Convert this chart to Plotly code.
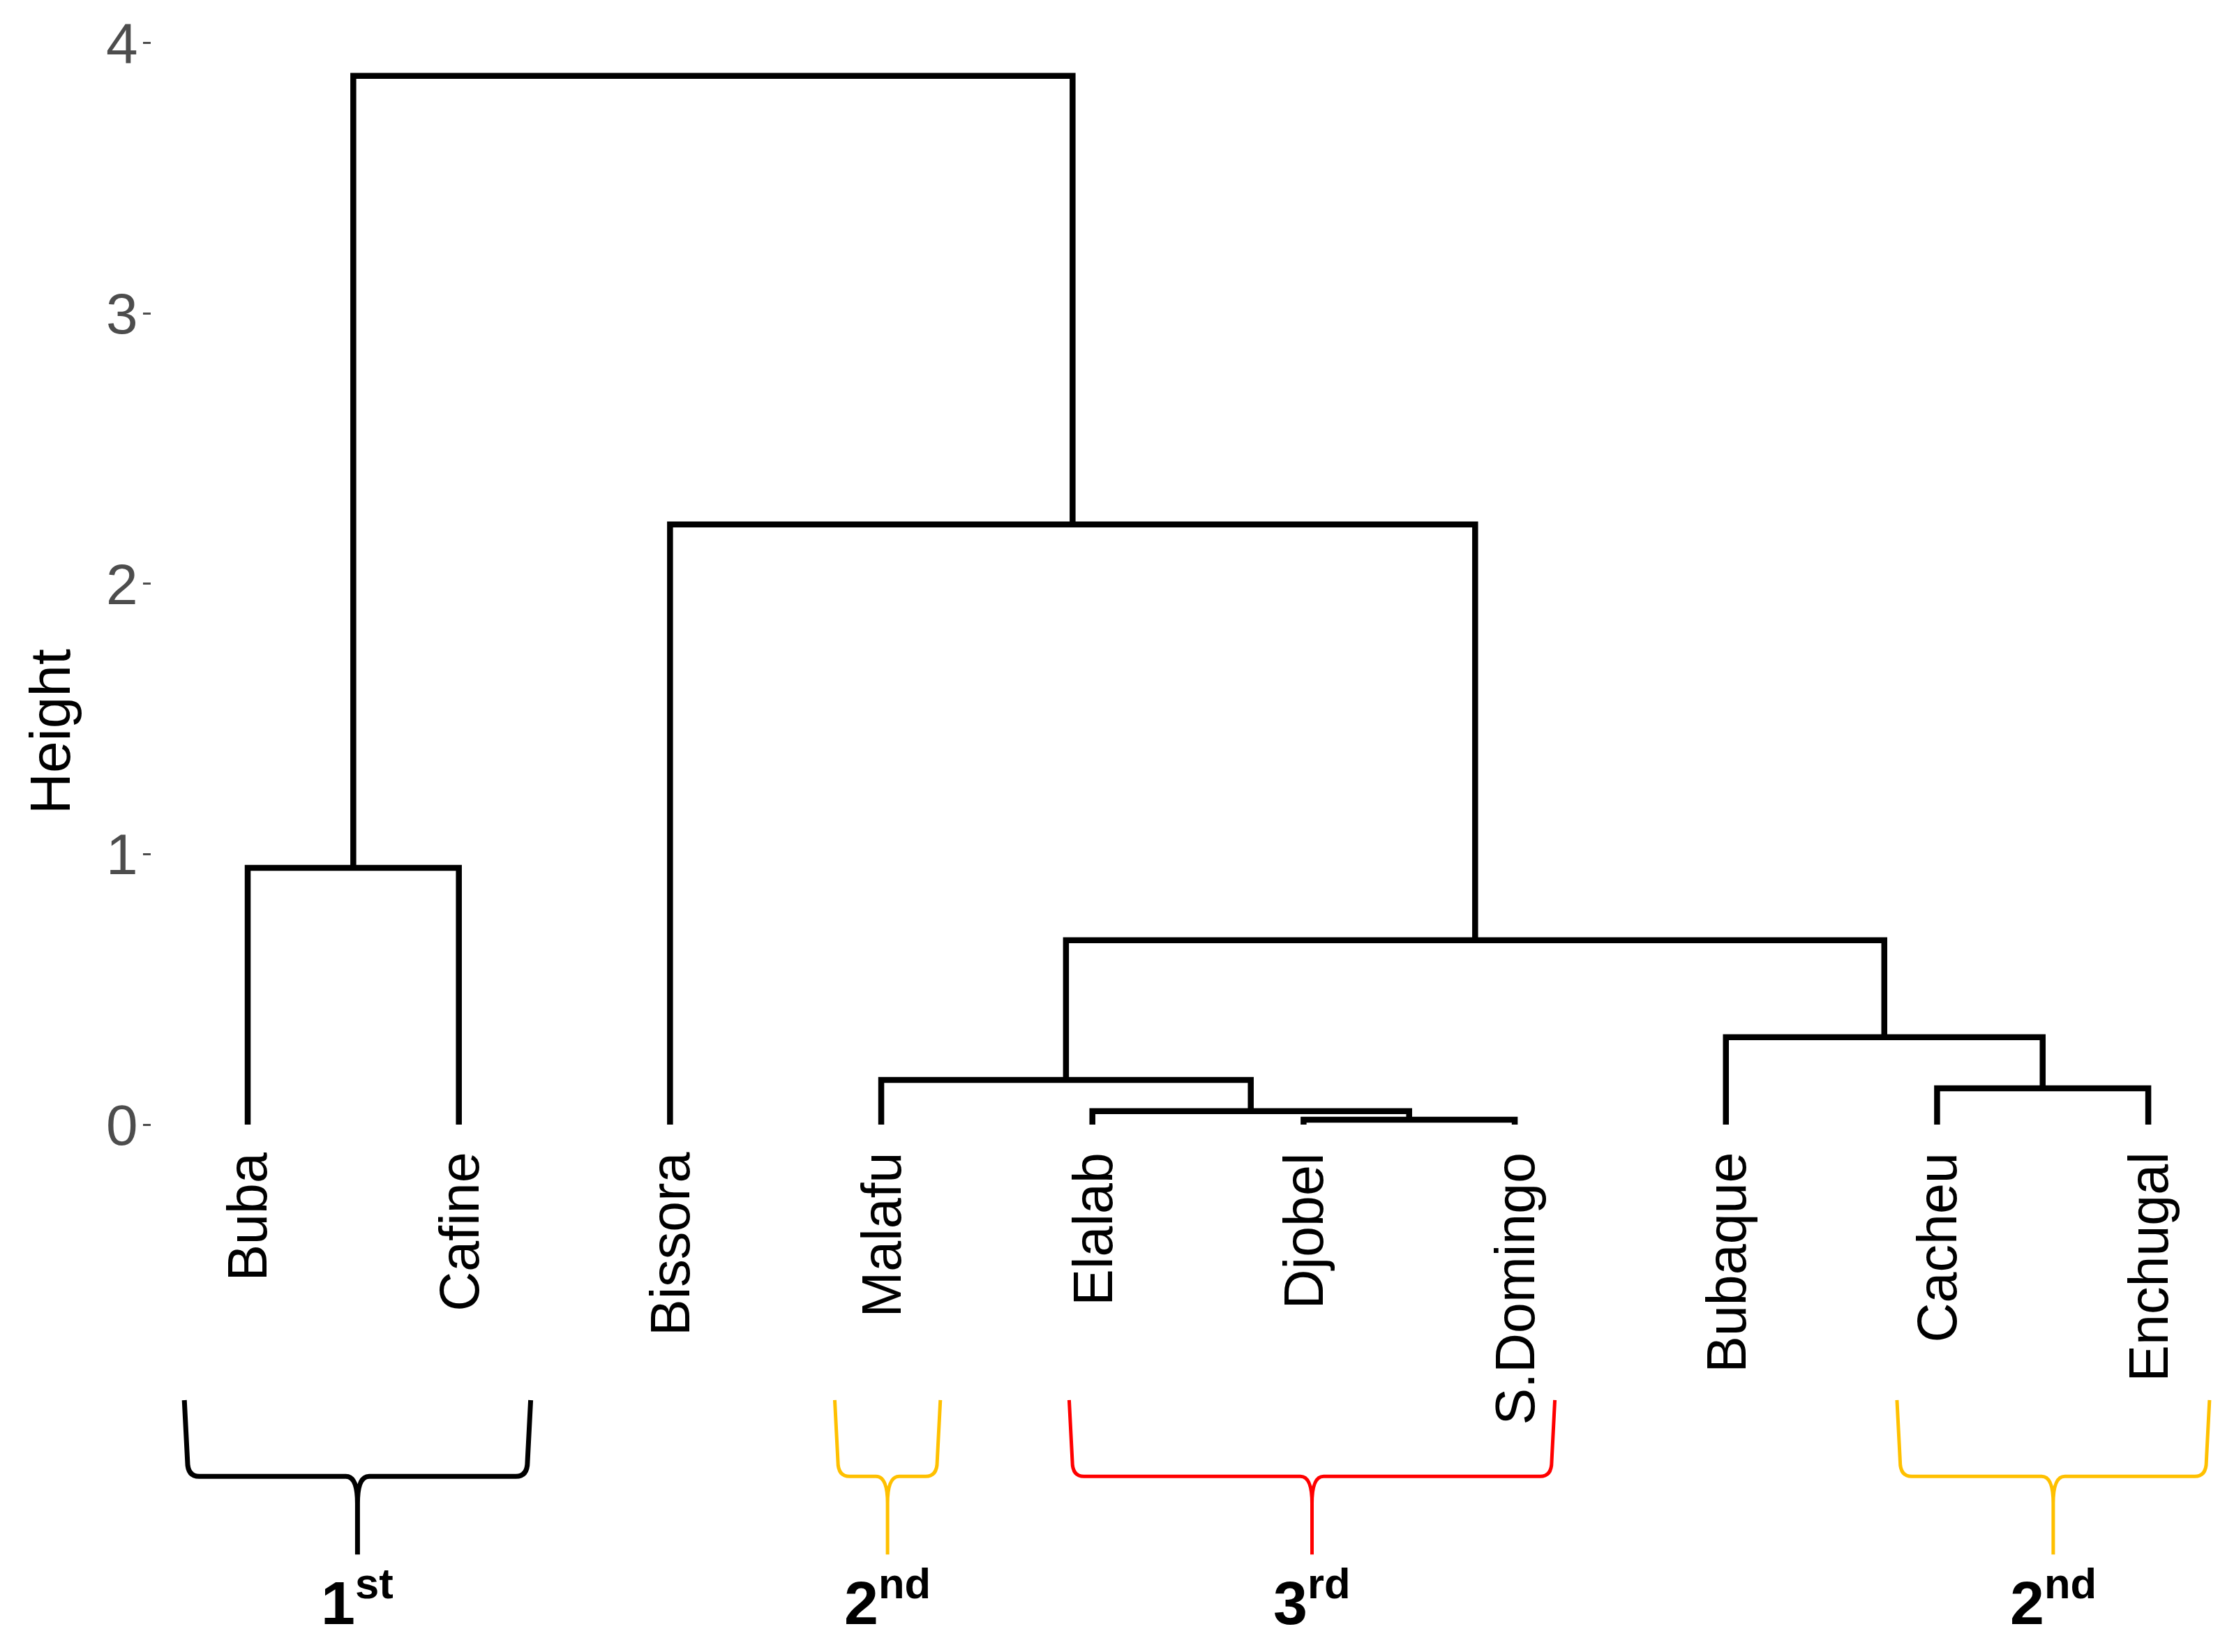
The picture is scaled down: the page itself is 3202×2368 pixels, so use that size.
import plotly.graph_objects as go

# ---------------- data ----------------
leaves = ["Buba", "Cafine", "Bissora", "Malafu", "Elalab", "Djobel",
          "S.Domingo", "Bubaque", "Cacheu", "Enchugal"]

merge_names = ["m1", "m2", "m3", "m4", "m5", "m6", "m7", "m8", "m9"]
merge_left = ["Djobel", "Cacheu", "Elalab", "Malafu", "Bubaque", "m4", "Buba", "Bissora", "m7"]
merge_right = ["S.Domingo", "Enchugal", "m1", "m3", "m2", "m5", "Cafine", "m6", "m8"]
merge_height = [0.018, 0.134, 0.050, 0.165, 0.323, 0.682, 0.950, 2.220, 3.879]

y_ticks = [0, 1, 2, 3, 4]

group_first = ["Buba", "Malafu", "Elalab", "Cacheu"]
group_last = ["Cafine", "Malafu", "S.Domingo", "Enchugal"]
group_text = ["1<sup>st</sup>", "2<sup>nd</sup>", "3<sup>rd</sup>", "2<sup>nd</sup>"]

# ---------------- styles / layout helpers ----------------
group_colors = ["#000000", "#FFC000", "#FF0000", "#FFC000"]
group_widths = [7, 5, 5, 5]
pad_left = [0.30, 0.22, 0.11, 0.19]
pad_right = [0.34, 0.28, 0.19, 0.29]

# page has an 8px body margin; figure sized to fit inside the window
W, H = 3184, 2350
ML, MT = 209, 12
PW, PH = 2975, 2328
MR = W - ML - PW
MB = H - MT - PH
X_RANGE = [0.544, 10.373]
Y_RANGE = [-1.899, 4.108]

# positions from the tree structure
pos = {name: i + 1 for i, name in enumerate(leaves)}
hgt = {name: 0.0 for name in leaves}
xs, ys = [], []
for n, l, r, h in zip(merge_names, merge_left, merge_right, merge_height):
    xs += [pos[l], pos[l], pos[r], pos[r], None]
    ys += [hgt[l], h, h, hgt[r], None]
    pos[n] = (pos[l] + pos[r]) / 2
    hgt[n] = h

fig = go.Figure()
fig.add_trace(go.Scatter(x=xs, y=ys, mode="lines",
                         line=dict(color="black", width=8.5),
                         hoverinfo="skip", showlegend=False))

FONT = "Liberation Sans, Arial, sans-serif"
annotations = []
for name in leaves:
    annotations.append(dict(x=pos[name], y=0, xref="x", yref="y", text=name,
                            textangle=-90, showarrow=False, xanchor="center",
                            yanchor="top", yshift=-38,
                            font=dict(family=FONT, size=79, color="black")))

# braces
y_top, y_mid, y_tip = -1.019, -1.301, -1.590
rx, ry = 0.07, 0.055
cx_, cy_ = 0.055, 0.10
shapes = []
for f, l, txt, col, w, pl, pr in zip(group_first, group_last, group_text,
                                     group_colors, group_widths, pad_left, pad_right):
    x0 = pos[f] - pl
    x1 = pos[l] + pr
    xc = (x0 + x1) / 2
    path = (f"M {x0},{y_top} L {x0+0.015},{y_mid+ry} Q {x0+0.015},{y_mid} {x0+rx},{y_mid} "
            f"L {xc-cx_},{y_mid} Q {xc},{y_mid} {xc},{y_mid-cy_} L {xc},{y_tip} "
            f"M {xc},{y_mid-cy_} Q {xc},{y_mid} {xc+cx_},{y_mid} "
            f"L {x1-rx},{y_mid} Q {x1-0.015},{y_mid} {x1-0.015},{y_mid+ry} L {x1},{y_top}")
    shapes.append(dict(type="path", path=path, xref="x", yref="y",
                       line=dict(color=col, width=w)))
    annotations.append(dict(x=xc, y=-1.752, xref="x", yref="y", text=f"<b>{txt}</b>",
                            showarrow=False, xanchor="center", yanchor="middle",
                            font=dict(family=FONT, size=88, color="black")))

# y-axis title
annotations.append(dict(x=-(ML - 63) / PW, y=1.452, xref="paper", yref="y",
                        text="Height", textangle=-90, showarrow=False,
                        xanchor="center", yanchor="middle",
                        font=dict(family=FONT, size=82, color="black")))

fig.update_layout(
    width=W, height=H,
    margin=dict(l=ML, r=MR, t=MT, b=MB, pad=0),
    paper_bgcolor="white", plot_bgcolor="white",
    xaxis=dict(range=X_RANGE, visible=False, showgrid=False, zeroline=False),
    yaxis=dict(range=Y_RANGE, tickvals=y_ticks, ticktext=[str(t) for t in y_ticks],
               ticks="outside", ticklen=11, tickwidth=3, tickcolor="#4D4D4D",
               ticklabelstandoff=-9,
               showgrid=False, zeroline=False, showline=False,
               tickfont=dict(family=FONT, size=82, color="#4D4D4D")),
    shapes=shapes,
    annotations=annotations,
)

fig.write_html("out.html")
